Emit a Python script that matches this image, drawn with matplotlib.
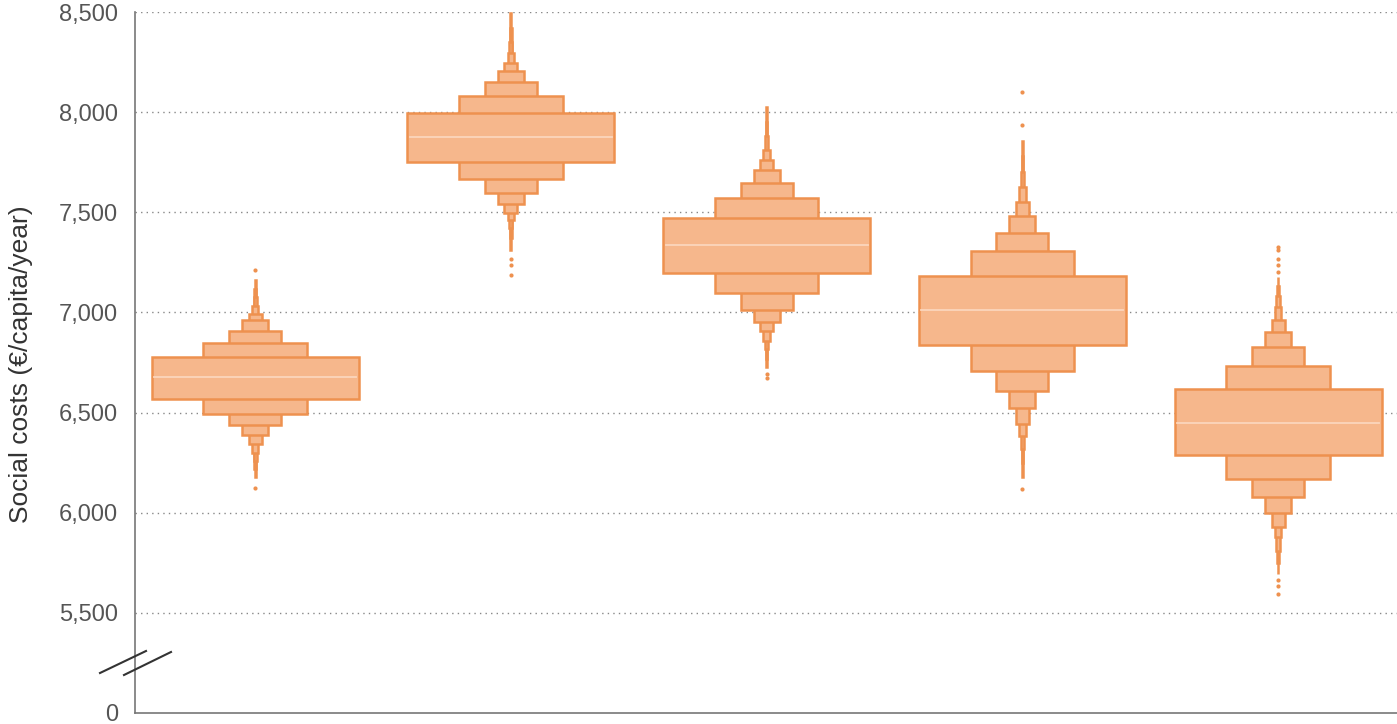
import matplotlib.pyplot as plt
from matplotlib.patches import Rectangle
from matplotlib.lines import Line2D

plt.rcParams['font.family'] = ['Liberation Sans', 'DejaVu Sans']

# letter values (innermost box first)
positions = [0, 1, 2, 3, 4]
medians = [6677, 7877, 7335, 7010, 6447]

lows = [
    [6568, 6493, 6437, 6388, 6343, 6300, 6260, 6220, 6177],
    [7752, 7668, 7597, 7543, 7498, 7460, 7420, 7370, 7310],
    [7197, 7097, 7013, 6952, 6907, 6857, 6815, 6770, 6727],
    [6835, 6710, 6610, 6523, 6443, 6385, 6320, 6250, 6177],
    [6288, 6168, 6077, 5998, 5927, 5877, 5810, 5750, 5693],
]
highs = [
    [6776, 6847, 6907, 6960, 6993, 7030, 7075, 7115, 7160],
    [7998, 8082, 8152, 8207, 8243, 8293, 8350, 8420, 8493],
    [7473, 7573, 7647, 7710, 7763, 7813, 7880, 7950, 8027],
    [7180, 7305, 7397, 7480, 7552, 7627, 7700, 7780, 7855],
    [6618, 6733, 6827, 6902, 6963, 7027, 7080, 7130, 7177],
]
outliers = [
    [7213, 6122],
    [7268, 7235, 7188],
    [6693, 6673],
    [8102, 7935, 6118],
    [7327, 7310, 7268, 7235, 7202, 5663, 5635, 5593],
]

yticks = [5000, 5500, 6000, 6500, 7000, 7500, 8000, 8500]
ytick_labels = ['0', '5,500', '6,000', '6,500', '7,000', '7,500', '8,000', '8,500']

fill = '#F6B78C'
edge = '#EE914F'
median_color = '#FBD6BC'
box_width = 0.81

fig = plt.figure(figsize=(13.97, 7.24), dpi=100)
ax = fig.add_axes([0.0966, 0.0152, 0.9034, 0.9682])

for pos, med, lo, hi, out in zip(positions, medians, lows, highs, outliers):
    n = len(lo)
    # narrowest first so the wide boxes sit on top
    for k in reversed(range(n)):
        w = box_width * 0.5 ** k
        ax.add_patch(Rectangle((pos - w / 2, lo[k]), w, hi[k] - lo[k],
                               facecolor=fill, edgecolor=edge, linewidth=1.8,
                               zorder=3 + (n - k) * 0.01))
    ax.plot([pos - box_width / 2 + 0.01, pos + box_width / 2 - 0.01], [med, med],
            color=median_color, linewidth=1.3, zorder=4)
    ax.scatter([pos] * len(out), out, s=9, color=edge, linewidths=0, zorder=4)

ax.set_xlim(-0.47, 4.465)
ax.set_ylim(5000, 8500)
ax.set_yticks(yticks)
ax.set_yticklabels(ytick_labels)
ax.set_xticks([])
ax.tick_params(axis='y', length=0, pad=12, labelsize=17, labelcolor='#555555')
# keep the bottom "0" inside the canvas
ax.get_yticklabels()[0].set_verticalalignment('center_baseline')

for y in yticks[1:]:
    ax.axhline(y, color='#888888', linestyle=(0, (1, 3)), linewidth=1.0, zorder=1)

for side in ['top', 'right']:
    ax.spines[side].set_visible(False)
for side in ['left', 'bottom']:
    ax.spines[side].set_color('#777777')
    ax.spines[side].set_linewidth(1.2)

ax.set_ylabel('Social costs (€/capita/year)', fontsize=19, color='#333333')
ax.yaxis.set_label_coords(-0.081, 0.497)

# axis break marks
W, H = 1397, 724
for (x0, y0, x1, y1) in [(100, 673, 146, 651), (124, 675, 171, 652)]:
    fig.add_artist(Line2D([x0 / W, x1 / W], [1 - y0 / H, 1 - y1 / H],
                          color='#333333', linewidth=1.5, transform=fig.transFigure))

fig.savefig('out.png', dpi=100)
